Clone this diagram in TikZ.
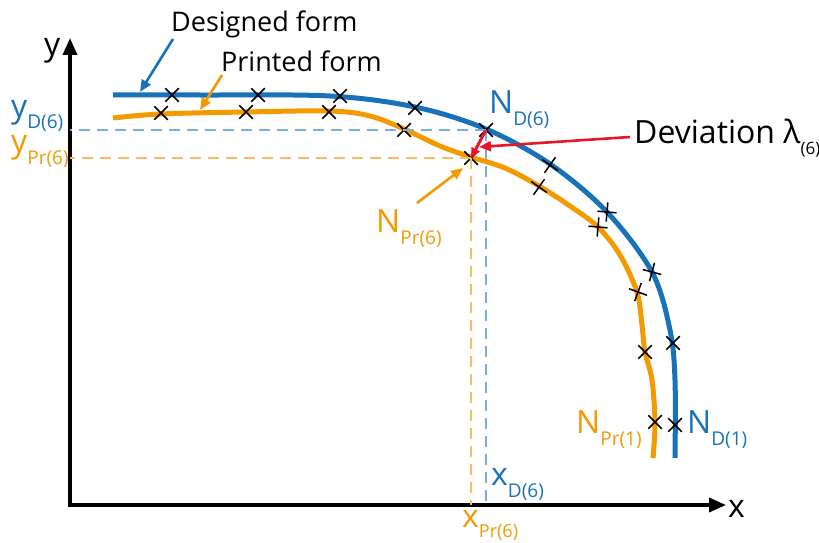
\documentclass[tikz,border=0pt]{standalone}
\usepackage{fontspec}
\setmainfont{Open Sans}
\usetikzlibrary{arrows.meta,shapes.misc}
\definecolor{dblue}{RGB}{24,114,186}
\definecolor{dorange}{RGB}{243,154,0}
\definecolor{lblue}{RGB}{120,175,222}
\definecolor{lorange}{RGB}{246,190,100}
\definecolor{dred}{RGB}{232,20,40}
\newcommand\sublab[1]{\raisebox{-12pt}{\fontsize{19}{19}\selectfont #1}}
\newcommand\sublabs[1]{\raisebox{-10pt}{\fontsize{18}{18}\selectfont #1}}
\begin{document}
\begin{tikzpicture}[x=1pt,y=-1pt,
  mk/.style={draw=black, cross out, minimum size=12pt, inner sep=0pt, line width=1.5pt},
  txt/.style={inner sep=0pt, anchor=base west},
  bigtxt/.style={txt, font=\fontsize{32}{32}\selectfont},
  captxt/.style={txt, font=\fontsize{27}{27}\selectfont},
  axis/.style={line width=3.5pt, {Triangle[length=17pt,width=14pt]}-{Triangle[length=17pt,width=14pt]}},
  curveD/.style={dblue, line width=5pt},
  curveP/.style={dorange, line width=5pt},
  dashb/.style={lblue, line width=1.4pt, dash pattern=on 11pt off 7pt},
  dasho/.style={lorange, line width=1.4pt, dash pattern=on 11pt off 7pt},
  pointer/.style={line width=2.6pt, -{Triangle[length=12pt,width=10pt]}}]
\useasboundingbox (0,0) rectangle (819,543);
\fill[white] (0,0) rectangle (819,543);

% axes
\coordinate (O) at (70,505);
\coordinate (xend) at (726,505);
\coordinate (yend) at (70,38);
\draw[axis] (xend) -| (yend);
\node[bigtxt] (xlab) at (728,517) {x};
\node[bigtxt] (ylab) at (44,56) {y};

% curves
\draw[curveD, line cap=butt] plot[smooth, tension=0.55] coordinates {
  (113,95) (200,95) (330,96) (415,107) (486,129) (550,164) (607,212)
  (652,272) (670,330) (675,380) (675,458)};
\draw[curveP, line cap=butt] plot[smooth, tension=0.55] coordinates {
  (113,118) (160,114) (245,112) (330,111) (370,116) (404,129) (440,146)
  (471,157) (505,168) (539,186) (570,206) (598,227) (620,255) (637,292)
  (642,325) (645,352) (652,380) (655,422) (653,458)};

% designed crosses
\node[mk] (d10) at (172,95) {};
\node[mk] (d9) at (258,95) {};
\node[mk] (d8) at (340,96) {};
\node[mk] (d7) at (415,108) {};
\node[mk] (d6) at (486,130) {};
\node[mk, rotate=10] (d5) at (550,165) {};
\node[mk, rotate=40] (d4) at (607,212) {};
\node[mk, rotate=30] (d3) at (652,272) {};
\node[mk] (d2) at (673,343) {};
\node[mk] (d1) at (675,425) {};
% printed crosses
\node[mk] (p10) at (161,113) {};
\node[mk] (p9) at (246,112) {};
\node[mk] (p8) at (329,112) {};
\node[mk] (p7) at (404,130) {};
\node[mk] (p6) at (471,158) {};
\node[mk, rotate=10] (p5) at (539,187) {};
\node[mk, rotate=40] (p4) at (598,227) {};
\node[mk, rotate=25] (p3) at (638,292) {};
\node[mk] (p2) at (645,352) {};
\node[mk] (p1) at (655,422) {};

% dashed projections
\draw[dashb] (d6.center) -- (d6.center -| O);
\draw[dashb] (d6.center) -- (d6.center |- O);
\draw[dasho] (p6.center) -- (p6.center -| O);
\draw[dasho] (p6.center) -- (p6.center |- O);

% labels
\node[bigtxt, dblue] (yD) at (11,117) {y\sublab{D(6)}};
\node[bigtxt, dorange] (yP) at (11,152) {y\sublab{Pr(6)}};
\node[bigtxt, dblue] (xD) at (491,485) {x\sublab{D(6)}};
\node[bigtxt, dorange] (xP) at (462,527) {x\sublabs{Pr(6)}};
\node[bigtxt, dblue] (ND6) at (489,113) {N\sublab{D(6)}};
\node[bigtxt, dorange] (NP6) at (376,232) {N\sublab{Pr(6)}};
\node[bigtxt, dorange] (NP1) at (576,433) {N\sublab{Pr(1)}};
\node[bigtxt, dblue] (ND1) at (687,433) {N\sublab{D(1)}};

\node[captxt] (des) at (171,32) {Designed form};
\node[captxt] (pri) at (221,71) {Printed form};
\node[bigtxt] (dev) at (634,143) {Deviation λ\raisebox{-11pt}{\fontsize{17}{17}\selectfont (6)}};

% pointers
\coordinate (desA) at (173,39);
\coordinate (desB) at (140,92);
\draw[pointer, dblue] (desA) -- (desB);
\coordinate (priA) at (222,75);
\coordinate (priB) at (200,110);
\draw[pointer, dorange] (priA) -- (priB);
\coordinate (np6A) at (417,203);
\coordinate (np6B) at (463,168);
\draw[pointer, dorange] (np6A) -- (np6B);
\draw[dred, line width=3pt, -{Triangle[length=10pt,width=9pt]}] (d6.center) -- (p6.center);
\coordinate (devA) at (630,137);
\coordinate (devB) at (479,147);
\draw[pointer, dred] (devA) -- (devB);
\end{tikzpicture}
\end{document}
